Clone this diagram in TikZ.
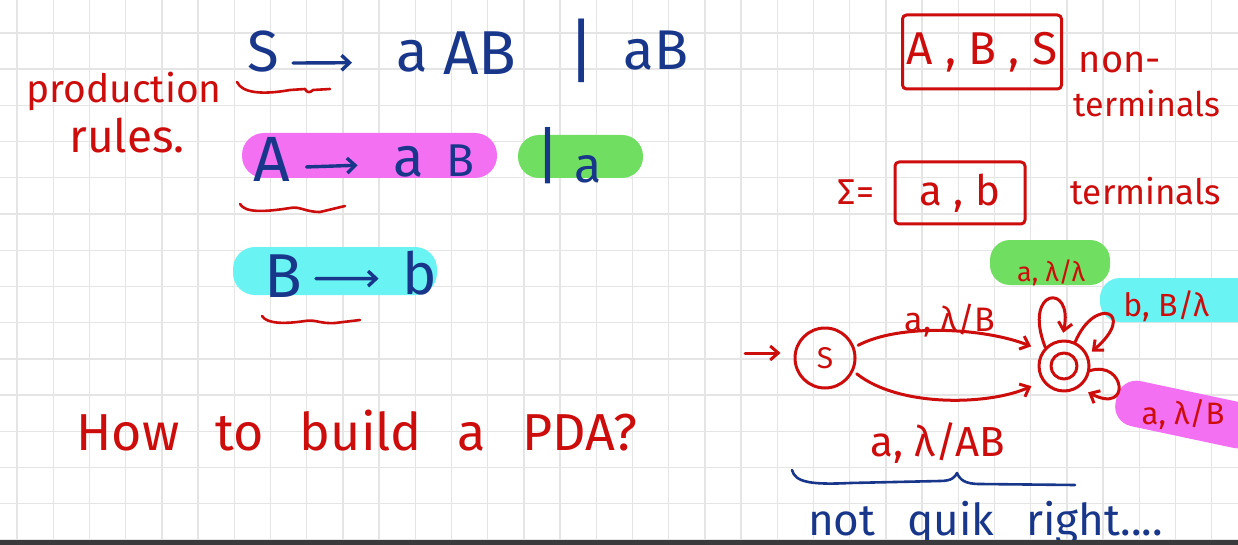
\documentclass[tikz,border=0pt]{standalone}
\usepackage{fontspec}
\setmainfont{Fira Sans}
\usetikzlibrary{arrows.meta,calc}
\definecolor{ink}{RGB}{205,12,12}
\definecolor{navy}{RGB}{24,54,138}
\definecolor{gridc}{RGB}{229,229,229}
\definecolor{hlmag}{RGB}{243,112,243}
\definecolor{hlgrn}{RGB}{112,222,96}
\definecolor{hlcyn}{RGB}{106,243,243}
\definecolor{barc}{RGB}{58,58,60}
\newcommand\fsz[1]{\fontsize{#1}{#1}\selectfont}
\begin{document}
\begin{tikzpicture}[x=1pt,y=-1pt,line cap=round,line join=round,
  gridline/.style={draw=gridc,line width=1.4pt},
  redtxt/.style={text=ink,inner sep=0pt,anchor=base},
  bluetxt/.style={text=navy,inner sep=0pt,anchor=base},
  redline/.style={draw=ink,line width=2.6pt},
  blueline/.style={draw=navy,line width=2.6pt},
  prodarrow/.style={draw=navy,line width=3.4pt,-{Straight Barb[length=8pt,width=15pt]}},
  pdaarrow/.style={draw=ink,line width=3pt,-{Straight Barb[length=8pt,width=14pt]}},
  statebox/.style={circle,draw=ink,line width=3pt,inner sep=0pt},
  setbox/.style={draw=ink,line width=3pt,rounded corners=4pt,inner sep=0pt,text=ink}]
\useasboundingbox (0,0) rectangle (1238,545);
\clip (0,0) rectangle (1238,545);
\fill[white] (0,0) rectangle (1238,545);
% grid
\foreach \i in {0,...,33} \draw[gridline] ({17+36.2*\i},0) -- ({17+36.2*\i},545);
\foreach \j in {0,...,14} \draw[gridline] (0,{33+36.2*\j}) -- (1238,{33+36.2*\j});
% highlights
\fill[hlmag,rounded corners=22pt] (242,133) rectangle (497,178);
\fill[hlgrn,rounded corners=21pt] (518,135) rectangle (643,178);
\fill[hlcyn,rounded corners=22pt] (233,247) rectangle (437,295);
\fill[hlgrn,rounded corners=20pt] (990,240) rectangle (1110,285);
\fill[hlcyn,rounded corners=20pt] (1100,278) rectangle (1260,322);
\fill[hlmag,rounded corners=20pt,rotate around={-12:(1180,412)}] (1115,390) rectangle (1260,436);
% left red labels
\node[redtxt,font=\fsz{39}] (prod) at (124,103) {production};
\node[redtxt,font=\fsz{46}] (rules) at (127,153) {rules.};
% productions
\node[bluetxt,font=\fsz{58}] (s1) at (263,72) {S};
\node[bluetxt,font=\fsz{58}] (a1) at (412,72) {a};
\node[bluetxt,font=\fsz{62}] (ab1) at (480,75) {AB};
\node[bluetxt,font=\fsz{70}] (bar1) at (582,76) {|};
\node[bluetxt,font=\fsz{56}] (ab2) at (656,70) {aB};
\draw[prodarrow] ($(s1.east)+(14,11)$) -- ($(a1.west)+(-44,6)$);
\node[bluetxt,font=\fsz{64}] (A2) at (272,182) {A};
\node[bluetxt,font=\fsz{56}] (a2) at (409,177) {a};
\node[bluetxt,font=\fsz{46}] (B2) at (460,177) {B};
\node[bluetxt,font=\fsz{62}] (bar2) at (548,178) {|};
\node[bluetxt,font=\fsz{50}] (a3) at (588,183) {a};
\draw[prodarrow] ($(A2.east)+(16,7)$) -- ($(a2.west)+(-36,3)$);
\node[bluetxt,font=\fsz{62}] (B3) at (283,297) {B};
\node[bluetxt,font=\fsz{58}] (b3) at (420,294) {b};
\draw[prodarrow] ($(B3.east)+(14,3)$) -- ($(b3.west)+(-24,6)$);
% red squiggles
\draw[redline] (237,82) .. controls (242,93) and (262,95) .. (290,90) -- (305,89) .. controls (307,93) and (310,93) .. (313,90) -- (330,89);
\draw[redline] (240,204) .. controls (245,213) and (265,212) .. (290,208) .. controls (300,206) and (305,212) .. (320,212) -- (345,206);
\draw[redline] (262,316) .. controls (267,324) and (285,324) .. (305,321) .. controls (315,319) and (320,324) .. (335,323) -- (360,320);
% question
\node[redtxt,font=\fsz{52}] (q) at (357,450) {\spaceskip=36pt How to build a PDA?};
% sets
\node[setbox,minimum width=159pt,minimum height=74pt,font=\fsz{46}] (nt) at (982,52) {A , B , S};
\node[redtxt,font=\fsz{38}] (non) at (1120,73) {non-};
\node[redtxt,font=\fsz{34}] (term1) at (1147,117) {terminals};
\node[redtxt,font=\fsz{36}] (sig) at (856,205) {Σ=};
\node[setbox,minimum width=130pt,minimum height=62pt,font=\fsz{42}] (tm) at (960,193) {a , b};
\node[redtxt,font=\fsz{35}] (term2) at (1146,205) {terminals};
% PDA
\node[statebox,minimum size=60pt,text=ink,font=\fsz{30}] (S) at (825,358) {S};
\node[statebox,minimum size=50pt] (F) at (1064,366) {};
\draw[redline,line width=3pt] (F.center) circle (13);
\coordinate (init) at (745,353);
\draw[pdaarrow] (init) -- ([xshift=-13pt,yshift=5pt]S.west);
\draw[pdaarrow,shorten <=4pt,shorten >=12pt] (S.20) .. controls (900,323) and (985,328) .. (F.145);
\draw[pdaarrow,shorten <=4pt,shorten >=12pt] (S.-25) .. controls (900,408) and (990,405) .. (F.215);
\draw[pdaarrow,shorten >=7pt] (F.135) .. controls (1022,288) and (1074,282) .. (F.95);
\draw[pdaarrow,shorten >=5pt] (F.65) .. controls (1095,295) and (1138,312) .. (F.25);
\draw[pdaarrow,shorten >=10pt] (F.-10) .. controls (1125,360) and (1132,415) .. (F.-55);
\node[redtxt,font=\fsz{34}] (l1) at (950,331) {a, λ/B};
\node[redtxt,font=\fsz{42}] (l2) at (938,456) {a, λ/AB};
\node[redtxt,font=\fsz{27}] (l3) at (1051,281) {a, λ/λ};
\node[redtxt,font=\fsz{32}] (l4) at (1166,316) {b, B/λ};
\node[redtxt,font=\fsz{31}] (l5) at (1183,424) {a, λ/B};
% brace
\draw[blueline] (792,470) .. controls (795,482) and (810,485) .. (850,483) -- (940,481) .. controls (952,481) and (955,477) .. (957,473) .. controls (960,480) and (965,484) .. (980,484) -- (1075,485);
\node[bluetxt,font=\fsz{44},anchor=base west] (nq) at (808,535) {\spaceskip=32pt not quik right....};
% bottom bar
\fill[barc] (0,540) rectangle (1238,545);
\end{tikzpicture}
\end{document}
